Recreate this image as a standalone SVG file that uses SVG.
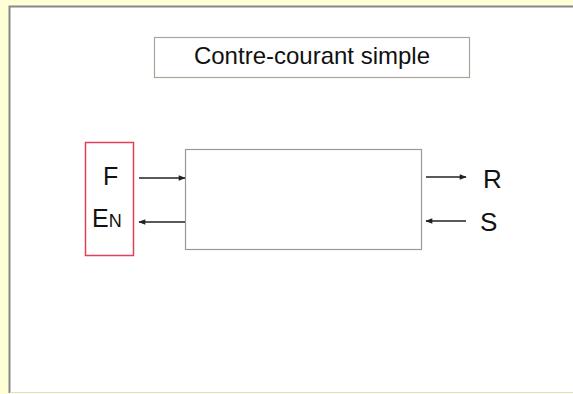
<svg xmlns="http://www.w3.org/2000/svg" width="573" height="394" viewBox="0 0 573 394">
  <style>
    .lbl { font-family: "Liberation Sans", Arial, sans-serif; fill: #111; }
    .box { fill: #fff; stroke: #999; stroke-width: 1.2; }
    .flow { stroke: #222; stroke-width: 1.5; fill: none; marker-end: url(#head); }
  </style>
  <defs>
    <marker id="head" viewBox="0 0 10 10" refX="9" refY="5" markerWidth="10" markerHeight="7" markerUnits="userSpaceOnUse" orient="auto">
      <path d="M0,1 L10,5 L0,9 Z" fill="#222"/>
    </marker>
  </defs>
  <!-- page background and slide panel -->
  <rect x="0" y="0" width="573" height="394" fill="#ffffd6"/>
  <rect x="9" y="6" width="564" height="387" fill="#fff"/>
  <path d="M9.5,393 V6.5 H573" fill="none" stroke="#888" stroke-width="2"/>
  <line x1="10" y1="392.5" x2="573" y2="392.5" stroke="#ddd" stroke-width="1"/>

  <g id="title">
    <rect x="154.5" y="37.5" width="315" height="40" fill="#fff" stroke="#aaa59a" stroke-width="1.2"/>
    <text class="lbl" x="312" y="64" font-size="24" text-anchor="middle">Contre-courant simple</text>
  </g>

  <g id="stage">
    <rect class="box" x="185.5" y="149.5" width="236" height="100"/>
  </g>

  <g id="inlet">
    <rect x="85.5" y="142.5" width="48" height="113" fill="none" stroke="#e0405a" stroke-width="1.5"/>
    <text class="lbl" x="103" y="185" font-size="25">F</text>
    <text class="lbl" x="92" y="227" font-size="25">E<tspan font-size="18">N</tspan></text>
  </g>

  <g id="outlet">
    <text class="lbl" x="483" y="188" font-size="26">R</text>
    <text class="lbl" x="480" y="231" font-size="26">S</text>
  </g>

  <g id="connectors">
    <line class="flow" x1="139" y1="178" x2="185" y2="178"/>
    <line class="flow" x1="185" y1="222" x2="139" y2="222"/>
    <line class="flow" x1="426" y1="177" x2="466" y2="177"/>
    <line class="flow" x1="466" y1="221" x2="426" y2="221"/>
  </g>
</svg>
